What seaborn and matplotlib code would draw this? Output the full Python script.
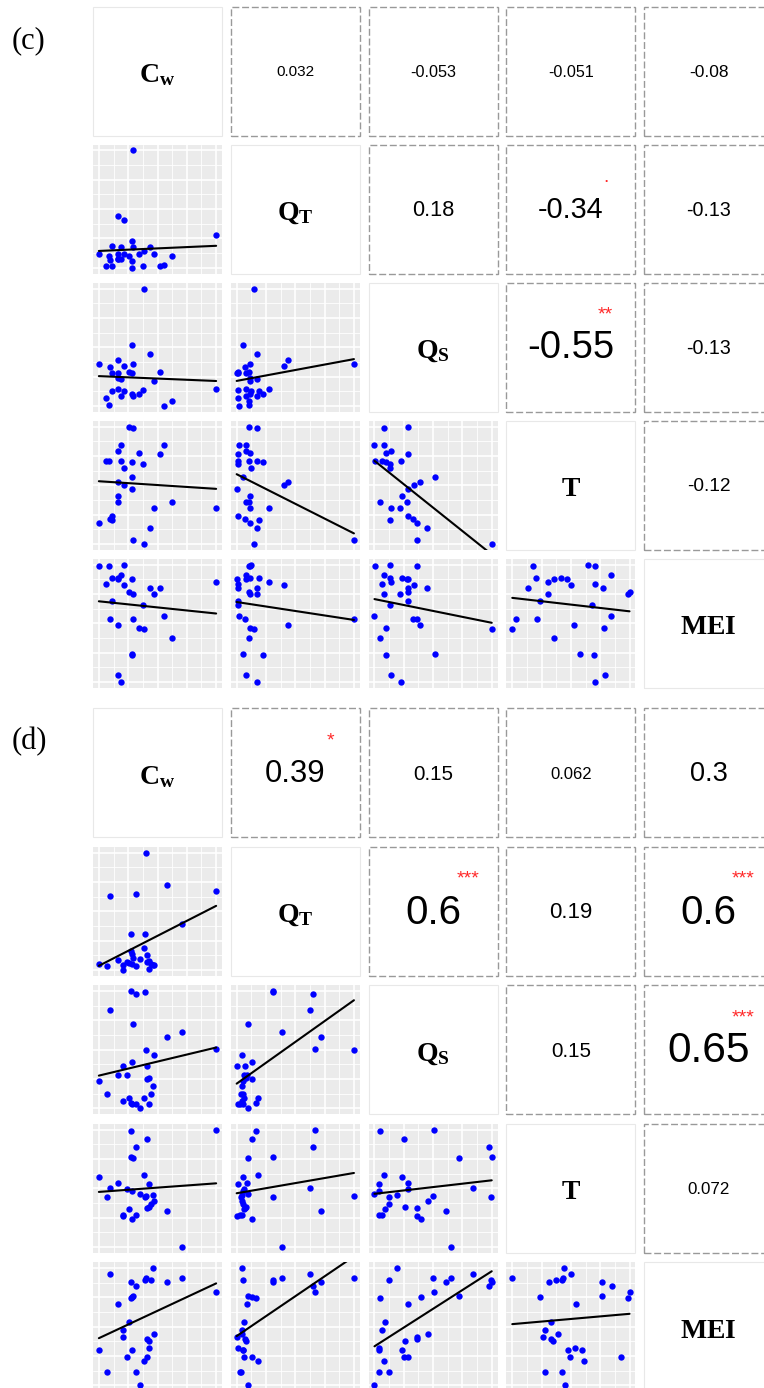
import matplotlib
matplotlib.use("Agg")
import matplotlib.pyplot as plt
import seaborn as sns
import pandas as pd
from matplotlib.patches import Rectangle
from matplotlib.ticker import MultipleLocator

# ---------------- data (relative units, 0-100) ----------------
# panel (c)
cw_c = [0, 6.3, 8.6, 9.2, 10.9, 11.5, 16.7, 16.7, 16.7, 16.7, 18.7, 18.7, 21.6, 21.6, 25.3,
        28.7, 28.7, 28.2, 28.2, 28.2, 34.5, 37.4, 38.8, 44.0, 47.4, 52.3, 55.2, 62.6, 100]
qt_c = [11.3, 1.1, 10.4, 7.0, 1.1, 18.9, 44.2, 7.6, 11.3, 7.6, 7.6, 17.7, 12.1, 40.3, 10.4,
        100, 17.7, 22.8, 5.6, 0, 11.3, 1.1, 14.4, 17.7, 11.3, 1.1, 2.0, 10.4, 27.6]
qs_c = [36.1, 6.5, 0.8, 32.7, 28.2, 13.0, 38.9, 14.4, 23.4, 27.6, 8.5, 22.5, 13.0, 33.8, 29.0,
        36.1, 8.5, 10.1, 51.5, 28.2, 10.1, 13.5, 100, 44.5, 21.4, 29.0, 0, 4.5, 14.4]
t_c = [17.6, 70.9, 70.9, 21.0, 23.8, 20.4, 52.4, 79.3, 41.2, 35.9, 84.0, 70.9, 64.4, 49.9, 100,
       3.4, 98.9, 69.5, 57.4, 47.1, 77.9, 67.8, 0, 13.4, 30.8, 77.0, 84.0, 35.9, 30.8]
mei_c = [99.1, 83.5, 99.1, 54.1, 69.2, 88.6, 49.0, 6.3, 88.6, 87.7, 91.5, 0, 100, 82.6, 76.4,
         54.1, 74.9, 22.8, 23.6, 87.7, 45.9, 65.8, 45.0, 80.1, 74.9, 80.1, 56.1, 37.6, 85.5]

# panel (d)
cw_d = [100, 27.1, 41.4, 31.4, 27.1, 29.1, 0, 38.6, 16.6, 9.1, 42.9, 24.3, 28.0, 7.1, 34.9,
        40.0, 46.3, 47.1, 44.3, 41.4, 25.7, 20.6, 20.9, 31.4, 28.0, 58.0, 70.9, 42.9, 39.1]
qt_d = [67.0, 16.3, 13.0, 65.1, 31.0, 9.9, 5.1, 18.6, 8.7, 62.8, 0.8, 6.5, 5.1, 3.7, 9.3,
        100, 4.5, 4.2, 5.1, 7.0, 6.2, 4.2, 0, 3.1, 13.5, 72.1, 38.9, 7.9, 31.0]
qs_d = [50.7, 4.8, 25.4, 98.0, 100, 72.4, 23.1, 8.5, 28.2, 83.9, 3.7, 28.2, 3.7, 12.1, 0,
        49.9, 19.2, 45.9, 12.1, 36.6, 9.0, 6.5, 36.6, 4.2, 39.4, 61.1, 65.6, 26.2, 99.4]
t_d = [100, 98.9, 92.4, 85.4, 76.9, 76.1, 59.4, 61.4, 54.4, 50.1, 53.5, 49.3, 47.3, 42.3, 45.1,
       43.1, 44.5, 38.9, 36.9, 33.2, 32.7, 27.6, 26.2, 27.6, 23.9, 31.0, 0, 34.4, 42.3]
mei_d = [80.1, 74.4, 24.1, 84.4, 88.6, 75.9, 30.4, 21.0, 69.6, 94.9, 31.5, 24.1, 30.4, 11.6, 0,
         91.5, 100, 43.8, 90.1, 39.5, 54.5, 47.4, 40.9, 11.6, 75.0, 87.8, 91.5, 37.5, 90.1]

variables = ["Cw", "QT", "QS", "T", "MEI"]
var_labels = [r"$\mathbf{C_w}$", r"$\mathbf{Q_T}$", r"$\mathbf{Q_S}$", r"$\mathbf{T}$", r"$\mathbf{MEI}$"]

# upper-triangle correlation labels, pairs (0,1),(0,2),(0,3),(0,4),(1,2),(1,3),(1,4),(2,3),(2,4),(3,4)
cor_c = ["0.032", "-0.053", "-0.051", "-0.08", "0.18", "-0.34", "-0.13", "-0.55", "-0.13", "-0.12"]
sig_c = ["", "", "", "", "", ".", "", "**", "", ""]
cor_d = ["0.39", "0.15", "0.062", "0.3", "0.6", "0.19", "0.6", "0.15", "0.65", "0.072"]
sig_d = ["*", "", "", "", "***", "", "***", "", "***", ""]

df_c = pd.DataFrame({"Cw": cw_c, "QT": qt_c, "QS": qs_c, "T": t_c, "MEI": mei_c})
df_d = pd.DataFrame({"Cw": cw_d, "QT": qt_d, "QS": qs_d, "T": t_d, "MEI": mei_d})

# ---------------- style ----------------
sns.set_style("white")
plt.rcParams["font.family"] = ["Liberation Sans", "DejaVu Sans"]
plt.rcParams["text.color"] = "black"
plt.rcParams["mathtext.fontset"] = "custom"
plt.rcParams["mathtext.bf"] = "Liberation Serif:bold"
plt.rcParams["mathtext.rm"] = "Liberation Serif"
plt.rcParams["mathtext.it"] = "Liberation Serif:italic"

W, H = 764, 1388
fig = plt.figure(figsize=(W / 100, H / 100), dpi=100)

PW, PH = 129, 129
COL_STEP = 137.8


def add_panel(left, top):
    return fig.add_axes([left / W, 1 - (top + PH) / H, PW / W, PH / H])


def expand(vals):
    lo, hi = min(vals), max(vals)
    pad = 0.05 * (hi - lo)
    return lo - pad, hi + pad


def draw_matrix(df, labels, sigs, top0, row_step):
    pairs = [(i, j) for i in range(5) for j in range(i + 1, 5)]
    for r in range(5):
        for c in range(5):
            ax = add_panel(93 + c * COL_STEP, top0 + r * row_step)
            if r == c:
                ax.axis("off")
                ax.add_patch(Rectangle((0, 0), 1, 1, transform=ax.transAxes, fill=False,
                                       ec="#E8E8E8", lw=0.8, clip_on=False))
                ax.text(0.5, 0.47, var_labels[r], transform=ax.transAxes, ha="center",
                        va="center", fontsize=20, color="black")
            elif r > c:
                xv, yv = variables[c], variables[r]
                ax.set_facecolor("#EBEBEB")
                sns.regplot(data=df, x=xv, y=yv, ax=ax, ci=None, truncate=True,
                            scatter_kws=dict(s=21, color="#0000FF", linewidths=0, alpha=1, zorder=3),
                            line_kws=dict(color="black", lw=1.5, zorder=4))
                ax.set_xlim(*expand(df[xv]))
                ax.set_ylim(*expand(df[yv]))
                for axis in (ax.xaxis, ax.yaxis):
                    axis.set_major_locator(MultipleLocator(25))
                    axis.set_minor_locator(MultipleLocator(12.5))
                ax.set_axisbelow(True)
                ax.grid(which="major", color="white", lw=1.2)
                ax.grid(which="minor", color="white", lw=0.6)
                ax.tick_params(which="both", length=0, labelbottom=False, labelleft=False)
                ax.set_xlabel("")
                ax.set_ylabel("")
                for s in ax.spines.values():
                    s.set_visible(False)
            else:
                k = pairs.index((r, c))
                ax.axis("off")
                ax.add_patch(Rectangle((0, 0), 1, 1, transform=ax.transAxes, fill=False,
                                       ec="#999999", lw=1.0, ls=(0, (5, 2)), clip_on=False))
                lab = labels[k]
                size = 10 + 31.7 * abs(float(lab))
                ax.text(0.5, 0.49, lab, transform=ax.transAxes, ha="center", va="center",
                        fontsize=size, color="black")
                if sigs[k]:
                    ax.text(0.77, 0.713, sigs[k], transform=ax.transAxes, ha="center",
                            va="baseline", fontsize=14, color="#FF2A2A")


draw_matrix(df_c, cor_c, sig_c, 6.5, 138.1)
draw_matrix(df_d, cor_d, sig_d, 708.3, 138.5)

fig.text(12 / W, 1 - 41 / H, "(c)", ha="left", va="center", fontsize=22, color="black",
         family=["Liberation Serif", "DejaVu Serif"])
fig.text(12 / W, 1 - 742 / H, "(d)", ha="left", va="center", fontsize=22, color="black",
         family=["Liberation Serif", "DejaVu Serif"])

fig.savefig("out.png", dpi=100)
